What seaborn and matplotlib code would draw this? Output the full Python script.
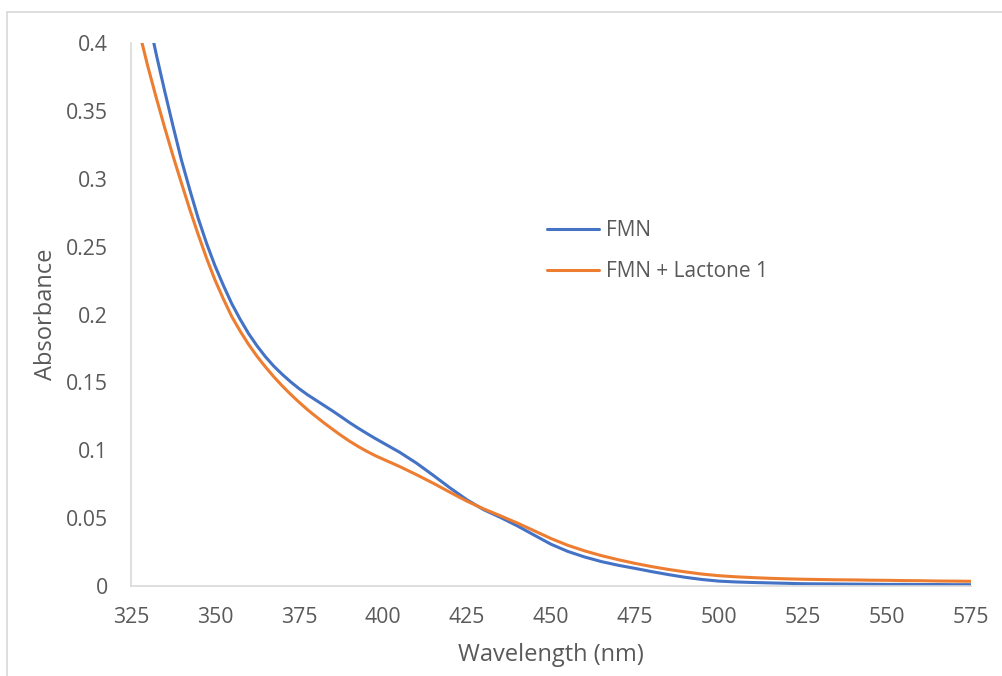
import matplotlib
matplotlib.use('Agg')
import matplotlib.pyplot as plt
import pandas as pd
import seaborn as sns
import numpy as np
from matplotlib.lines import Line2D
from matplotlib.ticker import FuncFormatter

# Data (2.5 nm steps below 400 nm, 5 nm above)
wavelength = list(np.arange(325, 400, 2.5)) + list(range(400, 580, 5))
fmn = [0.480, 0.450, 0.421, 0.392, 0.365, 0.339, 0.314, 0.292, 0.271, 0.2525,
       0.236, 0.2215, 0.208, 0.1965, 0.186, 0.177, 0.169, 0.162, 0.156, 0.1505,
       0.1455, 0.141, 0.137, 0.133, 0.129, 0.1248, 0.1205, 0.1165, 0.1127, 0.109,
       0.1055, 0.0985, 0.0905, 0.0815, 0.0722, 0.0635, 0.0562, 0.0505, 0.0443, 0.0375,
       0.0308, 0.0255, 0.0214, 0.0180, 0.0153, 0.0130, 0.0106, 0.0084, 0.0064, 0.0048,
       0.0036, 0.0030, 0.0026, 0.0023, 0.0020, 0.0017, 0.0016, 0.0015, 0.0014, 0.0013,
       0.0012, 0.0012, 0.0011, 0.0011, 0.0010, 0.0010]
fmn_lactone = [0.435, 0.408, 0.383, 0.360, 0.338, 0.317, 0.297, 0.2775, 0.259, 0.2415,
               0.2255, 0.2115, 0.1985, 0.1878, 0.178, 0.1693, 0.1615, 0.1542, 0.1475, 0.1413,
               0.1355, 0.130, 0.125, 0.1201, 0.1155, 0.111, 0.1068, 0.103, 0.0995, 0.0963,
               0.0935, 0.088, 0.082, 0.0757, 0.069, 0.0625, 0.0568, 0.0517, 0.0464, 0.0407,
               0.0350, 0.0300, 0.0259, 0.0224, 0.0194, 0.0167, 0.0143, 0.0122, 0.0104, 0.0088,
               0.0076, 0.0068, 0.0062, 0.0057, 0.0053, 0.0050, 0.0048, 0.0046, 0.0045, 0.0043,
               0.0042, 0.0040, 0.0039, 0.0037, 0.0036, 0.0035]
labels = ['FMN', 'FMN + Lactone 1']
colors = ['#4472C4', '#ED7D31']

df = pd.DataFrame({
    'Wavelength': wavelength * 2,
    'Absorbance': fmn + fmn_lactone,
    'Sample': [labels[0]] * len(wavelength) + [labels[1]] * len(wavelength),
})

sns.set_theme(style='white')
plt.rcParams['font.family'] = ['Open Sans', 'DejaVu Sans']
text_col = '#595959'
grid_col = '#D9D9D9'

fig = plt.figure(figsize=(10.03, 6.76), dpi=100)
ax = fig.add_axes([0.1306, 0.1331, 0.8375, 0.803])
sns.lineplot(data=df, x='Wavelength', y='Absorbance', hue='Sample',
             palette=colors, linewidth=2.2, ax=ax)

ax.set_xlim(325, 575)
ax.set_ylim(0, 0.4)
ax.set_xticks(np.arange(325, 576, 25))
ax.set_yticks(np.arange(0, 0.401, 0.05))
ax.yaxis.set_major_formatter(FuncFormatter(lambda v, p: '%g' % round(v, 2)))

for s in ['top', 'right']:
    ax.spines[s].set_visible(False)
for s in ['left', 'bottom']:
    ax.spines[s].set_color(grid_col)
    ax.spines[s].set_linewidth(1.2)
ax.tick_params(axis='both', colors=grid_col, length=4, width=1.2, direction='out',
               labelcolor=text_col, labelsize=15.3)
ax.tick_params(axis='x', pad=11)
ax.tick_params(axis='y', pad=12.5)

ax.set_xlabel('Wavelength (nm)', fontsize=17, color=text_col, labelpad=11)
ax.set_ylabel('Absorbance', fontsize=17, color=text_col, labelpad=6)

leg = ax.legend(loc='upper left', bbox_to_anchor=(0.473, 0.708), frameon=False,
                fontsize=15, handlelength=2.5, labelspacing=0.95, handletextpad=0.35)
for t in leg.get_texts():
    t.set_color(text_col)

# chart frame like the spreadsheet export
fig.add_artist(Line2D([7.5 / 1003, 1.0], [1 - 11.5 / 676] * 2, transform=fig.transFigure,
                      color=grid_col, linewidth=1.2))
fig.add_artist(Line2D([7.5 / 1003] * 2, [0, 1 - 11.5 / 676], transform=fig.transFigure,
                      color=grid_col, linewidth=1.2))

fig.savefig('out.png', dpi=100)
